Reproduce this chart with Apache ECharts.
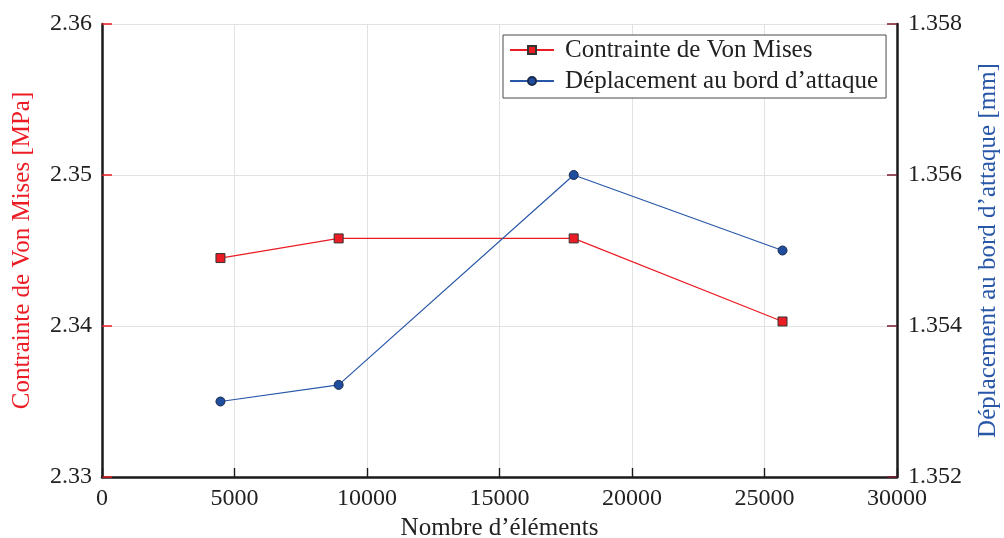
<!DOCTYPE html>
<html>
<head>
<meta charset="utf-8">
<script src="https://cdn.jsdelivr.net/npm/echarts@6/dist/echarts.min.js"></script>
<style>
  html, body { margin: 0; padding: 0; background: #fff; }
  #chart { width: 1004px; height: 538px; }
</style>
</head>
<body>
<div id="chart"></div>
<script>
// Mesh size (number of elements)
const elements = [4470, 8930, 17800, 25680];
// Von Mises stress [MPa]
const vonMises = [2.3445, 2.3458, 2.3458, 2.3403];
// Leading-edge displacement [mm]
const displacement = [1.3530, 1.35322, 1.3560, 1.3550];

const seriesNames = ['Contrainte de Von Mises', 'Déplacement au bord d’attaque'];
const axisNames = {
  x: 'Nombre d’éléments',
  left: 'Contrainte de Von Mises [MPa]',
  right: 'Déplacement au bord d’attaque [mm]'
};

const FONT = 'Liberation Serif';
const RED = '#ec1c24';
const BLUE = '#2857a8';
const BLUE_FILL = '#1f4e9e';

const chart = echarts.init(document.getElementById('chart'));

chart.setOption({
  animation: false,
  backgroundColor: '#fff',
  textStyle: { fontFamily: FONT },
  grid: { left: 102, right: 107, top: 24, bottom: 61, containLabel: false, outerBoundsMode: 'none' },
  legend: {
    orient: 'vertical',
    left: 503,
    top: 35,
    padding: [1, 8, 3, 6],
    itemGap: 3,
    itemWidth: 44,
    itemHeight: 10,
    backgroundColor: '#fff',
    borderColor: '#4a4a4a',
    borderWidth: 1,
    borderRadius: 0,
    textStyle: { fontFamily: FONT, fontSize: 25, lineHeight: 28, color: '#222', padding: [0, 0, 0, 6] },
    data: seriesNames
  },
  xAxis: {
    type: 'value',
    min: 0, max: 30000, interval: 5000,
    name: axisNames.x,
    nameLocation: 'middle',
    nameGap: 34,
    nameTextStyle: { fontFamily: FONT, fontSize: 25, color: '#222' },
    axisLine: { show: true, lineStyle: { color: '#1a1a1a', width: 2.5 } },
    axisTick: { show: true, inside: true, length: 9, lineStyle: { color: '#1a1a1a', width: 1.4 } },
    axisLabel: { fontFamily: FONT, fontSize: 24, color: '#222', margin: 10, formatter: v => String(v) },
    splitLine: { show: true, lineStyle: { color: '#e2e2e2', width: 1 } }
  },
  yAxis: [
    {
      type: 'value',
      position: 'left',
      min: 2.33, max: 2.36, interval: 0.01,
      name: axisNames.left,
      nameLocation: 'middle',
      nameGap: 67,
      nameRotate: 90,
      nameTextStyle: { fontFamily: FONT, fontSize: 25, color: RED },
      axisLine: { show: true, lineStyle: { color: '#1a1a1a', width: 2.5 } },
      axisTick: { show: true, inside: true, length: 10, lineStyle: { color: RED, width: 1.5 } },
      axisLabel: { fontFamily: FONT, fontSize: 24, color: '#222', margin: 10, formatter: v => v.toFixed(2) },
      splitLine: { show: true, lineStyle: { color: '#e2e2e2', width: 1 } }
    },
    {
      type: 'value',
      position: 'right',
      min: 1.352, max: 1.358, interval: 0.002,
      name: axisNames.right,
      nameLocation: 'middle',
      nameGap: 79,
      nameRotate: 90,
      nameTextStyle: { fontFamily: FONT, fontSize: 25, color: BLUE },
      axisLine: { show: true, lineStyle: { color: '#1a1a1a', width: 2.5 } },
      axisTick: { show: true, inside: true, length: 10, lineStyle: { color: '#7a1a2e', width: 1.5 } },
      axisLabel: { fontFamily: FONT, fontSize: 24, color: '#222', margin: 11, formatter: v => v.toFixed(3) },
      splitLine: { show: false }
    }
  ],
  series: [
    {
      name: seriesNames[0],
      type: 'line',
      yAxisIndex: 0,
      data: elements.map((x, i) => [x, vonMises[i]]),
      symbol: 'rect',
      symbolSize: 9,
      lineStyle: { color: RED, width: 1.2 },
      itemStyle: { color: RED, borderColor: '#333', borderWidth: 1 },
      z: 3
    },
    {
      name: seriesNames[1],
      type: 'line',
      yAxisIndex: 1,
      data: elements.map((x, i) => [x, displacement[i]]),
      symbol: 'circle',
      symbolSize: 9,
      lineStyle: { color: BLUE, width: 1.2 },
      itemStyle: { color: BLUE_FILL, borderColor: '#1a2a4a', borderWidth: 1 },
      z: 3
    }
  ]
});
</script>
</body>
</html>
